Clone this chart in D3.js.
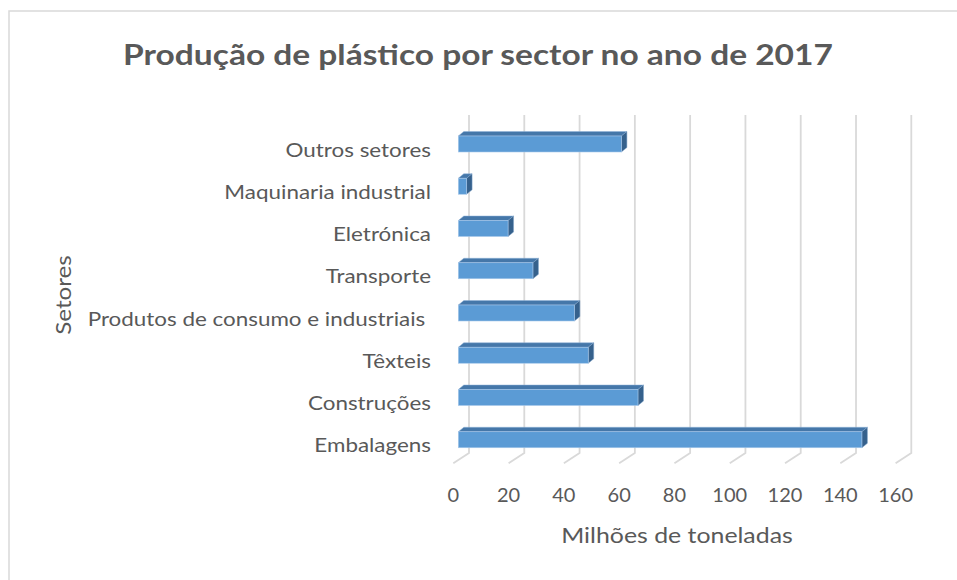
<!DOCTYPE html>
<html>
<head>
<meta charset="utf-8">
<script src="https://cdn.jsdelivr.net/npm/d3@7"></script>
<style>
  html, body { margin: 0; padding: 0; background: #ffffff; }
  svg { display: block; }
  text { font-family: Lato, "Noto Sans", sans-serif; fill: #595959; }
</style>
</head>
<body>
<svg id="chart" width="957" height="580"></svg>
<script>
// Sectors, listed bottom to top
const categories = [
  "Embalagens",
  "Construções",
  "Têxteis",
  "Produtos de consumo e industriais ",
  "Transporte",
  "Eletrónica",
  "Maquinaria industrial",
  "Outros setores"
];
// Plastic production per sector, million tonnes
const values = [146, 65, 47, 42, 27, 18, 3, 59];
const tickValues = [0, 20, 40, 60, 80, 100, 120, 140, 160];

const chartTitle = "Produção de plástico por sector no ano de 2017";
const xTitle = "Milhões de toneladas";
const yTitle = "Setores";

const svg = d3.select("#chart");

// widen text runs slightly so they read like the wider office font
function widen(sel, factor) {
  sel.each(function () {
    const len = this.getComputedTextLength();
    d3.select(this)
      .attr("textLength", len * factor)
      .attr("lengthAdjust", "spacingAndGlyphs");
  });
}

// chart frame
svg.append("rect")
  .attr("x", 9).attr("y", 11)
  .attr("width", 960).attr("height", 580)
  .attr("fill", "#ffffff")
  .attr("stroke", "#d9d9d9").attr("stroke-width", 1.5);

// back wall scales
const x = d3.scaleLinear().domain([0, 160]).range([469, 911.3]);
const y = d3.scaleBand().domain(categories).range([453, 115]);
const wallTop = 115, wallBottom = 453;

// perspective offsets: floor front edge and bar faces
const floorDX = -15.7, floorDY = 10.3;
const barDX = -10.7;               // front face shift relative to the wall
const depthX = 5.5, depthY = -4.5; // bar depth (top and side faces)
const barOffset = 21, barH = 16;

// gridlines on the back wall and floor
const grid = svg.append("g").attr("stroke", "#d9d9d9").attr("stroke-width", 1.8).attr("fill", "none");
tickValues.forEach(v => {
  grid.append("path")
    .attr("d", `M${x(v)},${wallTop}L${x(v)},${wallBottom}L${x(v) + floorDX},${wallBottom + floorDY}`);
});

// bars: front, top and side faces
const bars = svg.append("g");
categories.forEach((c, i) => {
  const v = values[i];
  const x0 = x(0) + barDX, x1 = x(v) + barDX;
  const yt = y(c) + barOffset, yb = yt + barH;
  const g = bars.append("g");
  g.append("path")
    .attr("d", `M${x0},${yt}L${x0 + depthX},${yt + depthY}L${x1 + depthX},${yt + depthY}L${x1},${yt}Z`)
    .attr("fill", "#4577a9").attr("stroke", "#8fb3d9").attr("stroke-width", 0.5);
  g.append("path")
    .attr("d", `M${x1},${yt}L${x1 + depthX},${yt + depthY}L${x1 + depthX},${yb + depthY}L${x1},${yb}Z`)
    .attr("fill", "#36618c").attr("stroke", "#7fa3c9").attr("stroke-width", 0.5);
  g.append("rect")
    .attr("x", x0).attr("y", yt)
    .attr("width", x1 - x0).attr("height", barH)
    .attr("fill", "#5b9bd5").attr("stroke", "#a8c8e9").attr("stroke-width", 0.6);
});

// category labels
const catLabels = svg.append("g").selectAll("text")
  .data(categories)
  .join("text")
  .attr("x", 431)
  .attr("y", d => y(d) + 41.5)
  .attr("text-anchor", "end")
  .attr("font-size", 20)
  .style("white-space", "pre")
  .text(d => d);
widen(catLabels, 1.12);

// value tick labels along the floor front edge
svg.append("g").selectAll("text")
  .data(tickValues)
  .join("text")
  .attr("x", d => x(d) + floorDX)
  .attr("y", 501.5)
  .attr("text-anchor", "middle")
  .attr("font-size", 20)
  .text(d => d);

// titles
const title = svg.append("text")
  .attr("x", 478).attr("y", 65)
  .attr("text-anchor", "middle")
  .attr("font-size", 29).attr("font-weight", "bold")
  .text(chartTitle);
widen(title, 1.155);

const xt = svg.append("text")
  .attr("x", 677).attr("y", 543)
  .attr("text-anchor", "middle")
  .attr("font-size", 22)
  .text(xTitle);
widen(xt, 1.13);

const yt = svg.append("text")
  .attr("transform", "translate(70.5,295) rotate(-90)")
  .attr("text-anchor", "middle")
  .attr("font-size", 22)
  .text(yTitle);
widen(yt, 1.1);
</script>
</body>
</html>
